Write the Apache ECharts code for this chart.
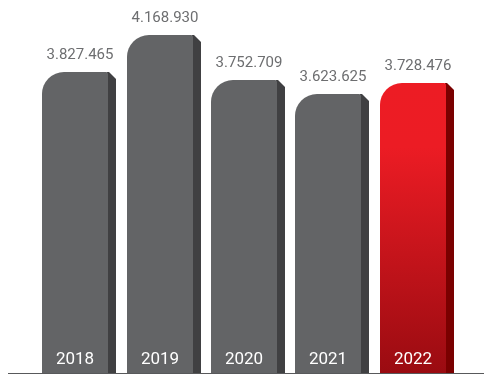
<!DOCTYPE html>
<html>
<head>
<meta charset="utf-8">
<style>
  html, body { margin: 0; padding: 0; background: #ffffff; }
  #chart { width: 484px; height: 374px; }
</style>
<script src="https://cdn.jsdelivr.net/npm/echarts@6/dist/echarts.min.js"></script>
</head>
<body>
<div id="chart"></div>
<script>
// Yearly totals
const years = ['2018', '2019', '2020', '2021', '2022'];
const totals = [3827465, 4168930, 3752709, 3623625, 3728476];

// Value axis range (bars start from a raised baseline)
const yMin = 1045000;
const yMax = 4496000;

function formatDots(n) {
  return String(n).replace(/\B(?=(\d{3})+(?!\d))/g, '.');
}

const chart = echarts.init(document.getElementById('chart'), null, { renderer: 'canvas' });

function renderBar(params, api) {
  const idx = api.value(0);
  const val = api.value(1);
  const top = api.coord([idx, val]);
  const base = api.coord([idx, yMin]);
  const band = api.size([1, 0])[0];
  const front = Math.round(band * 0.78);
  const side = Math.round(band * 0.095);
  const x0 = Math.round(top[0] - (front + side) / 2);
  const x1 = x0 + front;
  const x2 = x1 + side;
  const yT = Math.round(top[1]);
  const yB = base[1];
  const isLast = idx === years.length - 1;

  const frontFill = isLast
    ? new echarts.graphic.LinearGradient(0, 0, 0, 1, [
        { offset: 0, color: '#ed1c24' },
        { offset: 0.22, color: '#ec1c24' },
        { offset: 1, color: '#9a0b11' }
      ])
    : '#636466';
  const sideFill = isLast ? '#7a0000' : '#404042';

  return {
    type: 'group',
    children: [
      {
        type: 'polygon',
        shape: {
          points: [
            [x1 - 1, yB], [x1 - 1, yT], [x1 + 1, yT],
            [x2, yT + side - 1], [x2, yB]
          ]
        },
        style: { fill: sideFill }
      },
      {
        type: 'rect',
        shape: { x: x0, y: yT, width: front, height: yB - yT, r: [22, 2, 0, 0] },
        style: { fill: frontFill }
      },
      {
        type: 'text',
        x: x0 + (front + side) / 2 + 1,
        y: yT - 17,
        style: {
          text: formatDots(val),
          fill: '#6d6e70',
          font: '15px Roboto',
          align: 'center',
          verticalAlign: 'middle'
        }
      },
      {
        type: 'text',
        x: x0 + front / 2,
        y: yB - 13,
        style: {
          text: years[idx],
          fill: '#ffffff',
          font: '17px Roboto',
          align: 'center',
          verticalAlign: 'middle'
        }
      }
    ]
  };
}

chart.setOption({
  animation: false,
  backgroundColor: '#ffffff',
  grid: { left: 37, right: 25, top: 0, bottom: 1 },
  xAxis: {
    type: 'category',
    data: years,
    axisLine: { show: false },
    axisTick: { show: false },
    axisLabel: { show: false }
  },
  yAxis: {
    type: 'value',
    min: yMin,
    max: yMax,
    axisLine: { show: false },
    axisTick: { show: false },
    axisLabel: { show: false },
    splitLine: { show: false }
  },
  graphic: [
    {
      type: 'line',
      z: 100,
      shape: { x1: 8, y1: 373.5, x2: 484, y2: 373.5 },
      style: { stroke: '#58595b', lineWidth: 1 }
    }
  ],
  series: [
    {
      type: 'custom',
      renderItem: renderBar,
      encode: { x: 0, y: 1 },
      data: years.map((y, i) => [i, totals[i]])
    }
  ]
});
</script>
</body>
</html>
